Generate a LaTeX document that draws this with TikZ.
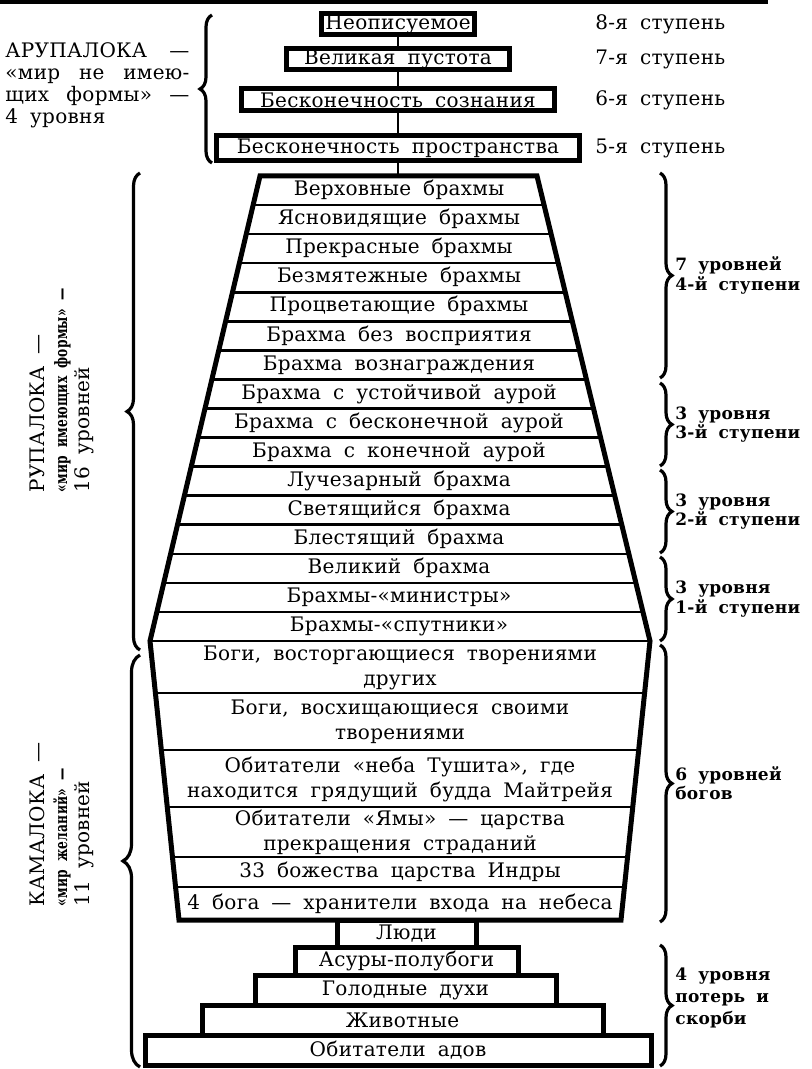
\documentclass[tikz,border=0pt]{standalone}
\usepackage{fontspec}
\setmainfont{DejaVu Serif}[LetterSpace=1.5,WordSpace=1.8]
\usetikzlibrary{decorations.pathreplacing}

\newcommand{\subtfont}{\bfseries\fontsize{8.5}{11.25}\selectfont\addfontfeatures{FakeStretch=0.72}}

\tikzset{
  lvlbox/.style={draw, line width=2.5pt, inner sep=0pt, font=\fontsize{10}{12}\selectfont},
  stairbox/.style={draw, line width=2.5pt, inner sep=0pt, font=\fontsize{10}{12}\selectfont},
  brrow/.style={inner sep=0pt, text height=7.3pt, text depth=2.1pt, font=\fontsize{10}{12}\selectfont},
  godrow/.style={inner sep=0pt, align=center, font=\fontsize{10}{12.5}\selectfont},
  sep/.style={line width=1.3pt},
  conn/.style={line width=1.2pt},
  stage/.style={anchor=west, inner sep=0pt, font=\fontsize{10}{12}\selectfont},
  grp/.style={anchor=west, inner sep=0pt, align=left, font=\bfseries\fontsize{8.5}{8.5}\selectfont},
  sidelbl/.style={anchor=west, rotate=90, inner sep=0pt, align=left, font=\fontsize{10}{11.25}\selectfont},
  brc/.style={decorate, decoration={brace, amplitude=#1}, line width=1.6pt},
  brc/.default=6pt
}

\begin{document}
\begin{tikzpicture}[x=0.5pt,y=-0.5pt]
\useasboundingbox (0,0) rectangle (812,1069);

% Draw top rule
\draw[line width=2.5pt] (0,2) -- (768,2);

% Draw arupaloka stages
\node[lvlbox, minimum width=76.5pt, minimum height=10.5pt] (st8) at (398,24) {Неописуемое};
\node[lvlbox, minimum width=111.5pt, minimum height=10.5pt] (st7) at (398,59) {Великая пустота};
\node[lvlbox, minimum width=156.5pt, minimum height=11pt] (st6) at (398,100) {Бесконечность сознания};
\node[lvlbox, minimum width=181.5pt, minimum height=12.5pt] (st5) at (398,148) {Бесконечность пространства};
\coordinate (rupatop) at (398,176);

\draw[conn] (st8) -- (st7);
\draw[conn] (st7) -- (st6);
\draw[conn] (st6) -- (st5);
\draw[conn] (st5) -- (rupatop);

% Stage labels
\node[stage] (lbl8) at (595,24) {8-я ступень};
\node[stage] (lbl7) at (595,59) {7-я ступень};
\node[stage] (lbl6) at (595,100) {6-я ступень};
\node[stage] (lbl5) at (595,148) {5-я ступень};

% Draw outline of rupaloka and kamaloka
\draw[line width=2.5pt, line join=miter] (260,176) -- (537,176) -- (650,641) -- (621,920)
  -- (179,920) -- (150,641) -- cycle;

% Draw rupaloka rows
\foreach \k in {1,...,16} {
   \pgfmathsetmacro{\t}{\k/16}
   \pgfmathsetmacro{\yy}{176+29.0625*\k}
   \pgfmathsetmacro{\xl}{260-110*\t}
   \pgfmathsetmacro{\xr}{537+113*\t}
   \draw[sep] (\xl,\yy) -- (\xr,\yy);
}
\foreach \txt [count=\i] in {Верховные брахмы, Ясновидящие брахмы, Прекрасные брахмы,
   Безмятежные брахмы, Процветающие брахмы, Брахма без восприятия, Брахма вознаграждения,
   Брахма с устойчивой аурой, Брахма с бесконечной аурой, Брахма с конечной аурой,
   Лучезарный брахма, Светящийся брахма, Блестящий брахма, Великий брахма,
   Брахмы-«министры», Брахмы-«спутники»} {
   \pgfmathsetmacro{\yc}{176+29.0625*(\i-0.5)}
   \node[brrow] (rupa\i) at (399,\yc) {\txt};
}

% Draw kamaloka rows
\foreach \yy in {693,750,807,857,887} {
   \pgfmathsetmacro{\xl}{150+(\yy-641)/279*29}
   \pgfmathsetmacro{\xr}{650-(\yy-641)/279*29}
   \draw[sep] (\xl,\yy) -- (\xr,\yy);
}
\node[godrow] (kama1) at (400,668) {Боги, восторгающиеся творениями\\других};
\node[godrow] (kama2) at (400,722) {Боги, восхищающиеся своими\\творениями};
\node[godrow] (kama3) at (400,779) {Обитатели «неба Тушита», где\\находится грядущий будда Майтрейя};
\node[godrow] (kama4) at (400,832) {Обитатели «Ямы» — царства\\прекращения страданий};
\node[godrow] (kama5) at (400,872) {33 божества царства Индры};
\node[godrow] (kama6) at (400,903.5) {4 бога — хранители входа на небеса};

% Draw lower steps
\node[stairbox, minimum width=69.5pt, minimum height=13.5pt] (ljudi) at (406.5,933.5) {Люди};
\node[stairbox, minimum width=111.5pt, minimum height=14pt] (asury) at (406.5,961) {Асуры-полубоги};
\node[stairbox, minimum width=150.5pt, minimum height=15pt] (duhi) at (405.5,990) {Голодные духи};
\node[stairbox, minimum width=200.5pt, minimum height=15pt] (zhiv) at (402.5,1020) {Животные};
\node[stairbox, minimum width=253pt, minimum height=15pt] (ady) at (398,1050) {Обитатели адов};

% Left braces and labels
\draw[brc] (212,163) -- (212,15);
\node[anchor=north west, inner sep=0pt, align=left, font=\fontsize{10}{11}\selectfont] (arupa) at (5,42)
  {\makebox[92pt][s]{АРУПАЛОКА —}\\\makebox[92pt][s]{«мир не имею-}\\\makebox[92pt][s]{щих формы» —}\\4 уровня};

\draw[brc=6.5pt] (140,650) -- (140,173);
\node[sidelbl] (rupalbl) at (62,493) {РУПАЛОКА —\\{\subtfont «мир имеющих формы» —}\\16 уровней};

\draw[brc=8.5pt] (140,1067) -- (140,655);
\node[sidelbl] (kamalbl) at (62,907) {КАМАЛОКА —\\{\subtfont «мир желаний» —}\\11 уровней};

% Right braces and labels
\draw[brc] (660,173) -- (660,378);
\node[grp] (g4) at (675,275.5) {7 уровней\\4-й ступени};
\draw[brc] (660,383) -- (660,466);
\node[grp] (g3) at (675,424.5) {3 уровня\\3-й ступени};
\draw[brc] (660,470) -- (660,553);
\node[grp] (g2) at (675,511.5) {3 уровня\\2-й ступени};
\draw[brc] (660,557) -- (660,641);
\node[grp] (g1) at (675,599) {3 уровня\\1-й ступени};
\draw[brc] (660,645) -- (660,922);
\node[grp, font=\bfseries\fontsize{8.5}{9.5}\selectfont] (gods) at (675,783.5) {6 уровней\\богов};
\draw[brc] (660,945) -- (660,1066);
\node[grp, font=\bfseries\fontsize{8.5}{11}\selectfont] (loss) at (675,998) {4 уровня\\потерь и\\скорби};

\end{tikzpicture}
\end{document}
